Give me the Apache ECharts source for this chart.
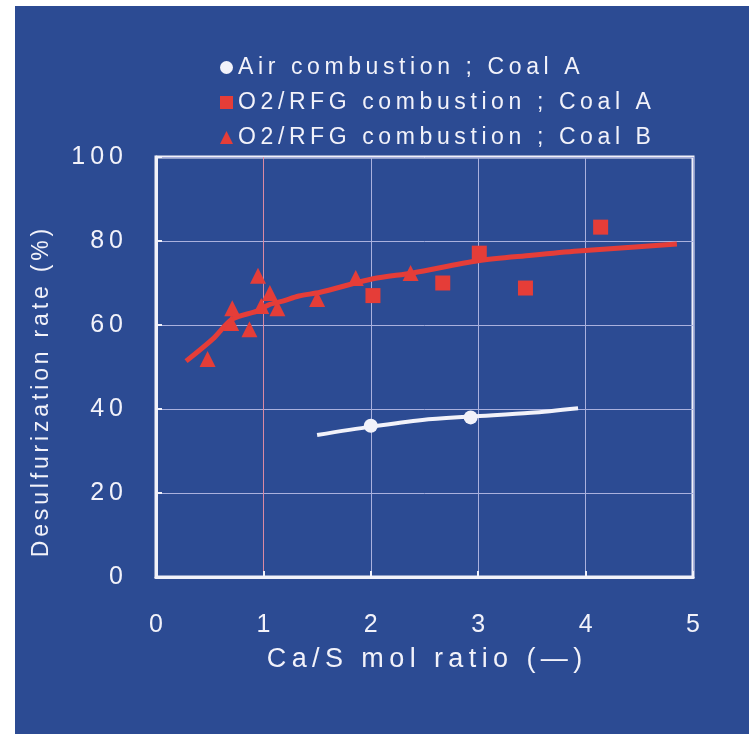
<!DOCTYPE html>
<html>
<head>
<meta charset="utf-8">
<script src="https://cdn.jsdelivr.net/npm/echarts@6/dist/echarts.min.js"></script>
<style>
  html, body { margin: 0; padding: 0; background: #ffffff; }
  #chart { position: absolute; left: 15px; top: 6px; width: 734px; height: 728px; }
</style>
</head>
<body>
<div id="chart"></div>
<script>
// Desulfurization rate against Ca/S molar ratio
const xTicks = [0, 1, 2, 3, 4, 5];
const yTicks = [0, 20, 40, 60, 80, 100];

// Air combustion, coal A: measured points and fitted curve
const airX = [2.0, 2.93];
const airY = [36.0, 38.0];
const airFitX = [1.5, 2.0, 2.48, 2.93, 3.49, 3.93];
const airFitY = [33.8, 35.8, 37.4, 38.2, 39.1, 40.2];

// O2/RFG combustion, coal A (squares)
const rfgAX = [2.02, 2.67, 3.01, 3.44, 4.14];
const rfgAY = [67.0, 70.0, 77.1, 68.8, 83.3];

// O2/RFG combustion, coal B (triangles)
const rfgBX = [0.48, 0.70, 0.71, 0.87, 0.95, 0.98, 1.06, 1.13, 1.50, 1.86, 2.37];
const rfgBY = [51.9, 60.5, 64.0, 59.0, 71.7, 64.5, 67.6, 64.0, 66.2, 71.2, 72.4];

// Fitted curve through the O2/RFG data
const rfgFitX = [0.28, 0.53, 0.71, 0.94, 1.05, 1.18, 1.33, 1.53, 2.02, 2.39, 3.0, 3.5, 3.93, 4.85];
const rfgFitY = [51.4, 56.7, 61.4, 63.3, 64.8, 65.7, 66.9, 67.8, 71.0, 72.4, 75.3, 76.6, 77.6, 79.3];

const names = ['Air combustion ; Coal A', 'O2/RFG combustion ; Coal A', 'O2/RFG combustion ; Coal B'];
const xTitle = 'Ca/S mol ratio (\u2014)';
const yTitle = 'Desulfurization rate (%)';

const FONT = '"Liberation Sans", Arial, Helvetica, sans-serif';
const INK = '#f2f2fa';
const RED = '#e53d38';

// Wide tracking: a narrow space between glyphs
const track = (s, gap = '\u2009') => Array.from(String(s)).join(gap);
const pairs = (xs, ys) => xs.map((x, i) => [x, ys[i]]);

const chart = echarts.init(document.getElementById('chart'), null, { renderer: 'canvas' });

chart.setOption({
  backgroundColor: '#2c4b93',
  animation: false,
  grid: {
    left: 141, right: 56, top: 151, bottom: 157,
    show: true, borderColor: INK, borderWidth: 3, backgroundColor: 'transparent'
  },
  legend: {
    orient: 'vertical',
    left: 200, top: 45,
    itemWidth: 13, itemHeight: 13, itemGap: 12,
    data: [
      { name: names[0], icon: 'circle' },
      { name: names[1], icon: 'rect' },
      { name: names[2], icon: 'triangle' }
    ],
    formatter: n => track(n),
    textStyle: { color: INK, fontSize: 23, fontFamily: FONT, lineHeight: 22 }
  },
  xAxis: {
    type: 'value', min: 0, max: 5, interval: 1,
    axisLine: { show: true, lineStyle: { color: INK, width: 3 } },
    axisTick: { show: true, inside: true, length: 6, lineStyle: { color: INK, width: 2 } },
    axisLabel: {
      color: INK, fontSize: 25, fontFamily: FONT, margin: 36,
      formatter: v => track(v)
    },
    splitLine: { show: true, lineStyle: { color: ['#aab1de', '#da8aa2', '#aab1de', '#aab1de', '#aab1de', '#aab1de'], width: 1 } },
    name: track(xTitle),
    nameLocation: 'middle', nameGap: 69,
    nameTextStyle: { color: INK, fontSize: 27, fontFamily: FONT }
  },
  yAxis: {
    type: 'value', min: 0, max: 100, interval: 20,
    axisLine: { show: true, lineStyle: { color: INK, width: 3 } },
    axisTick: { show: true, inside: true, length: 6, lineStyle: { color: INK, width: 2 } },
    axisLabel: {
      color: INK, fontSize: 25, fontFamily: FONT, margin: 33,
      formatter: v => track(v)
    },
    splitLine: { show: true, lineStyle: { color: '#aab1de', width: 1 } }
  },
  graphic: [{
    type: 'text',
    x: 27, y: 387,
    rotation: Math.PI / 2,
    silent: true,
    style: {
      text: track(yTitle, '\u2006'),
      fill: INK, fontSize: 23, fontFamily: FONT,
      align: 'center', verticalAlign: 'middle'
    }
  }],
  series: [
    {
      name: 'air fit', type: 'line', data: pairs(airFitX, airFitY),
      smooth: 0.3, symbol: 'none', z: 3,
      lineStyle: { color: INK, width: 4 }
    },
    {
      name: 'rfg fit', type: 'line', data: pairs(rfgFitX, rfgFitY),
      smooth: 0.3, symbol: 'none', z: 3,
      lineStyle: { color: RED, width: 5 }
    },
    {
      name: names[0], type: 'scatter', data: pairs(airX, airY),
      symbol: 'circle', symbolSize: 14, z: 4,
      itemStyle: { color: INK, opacity: 1 }
    },
    {
      name: names[1], type: 'scatter', data: pairs(rfgAX, rfgAY),
      symbol: 'rect', symbolSize: 15, z: 4,
      itemStyle: { color: RED, opacity: 1 }
    },
    {
      name: names[2], type: 'scatter', data: pairs(rfgBX, rfgBY),
      symbol: 'triangle', symbolSize: 16, z: 4,
      itemStyle: { color: RED, opacity: 1 }
    }
  ]
});
</script>
</body>
</html>
